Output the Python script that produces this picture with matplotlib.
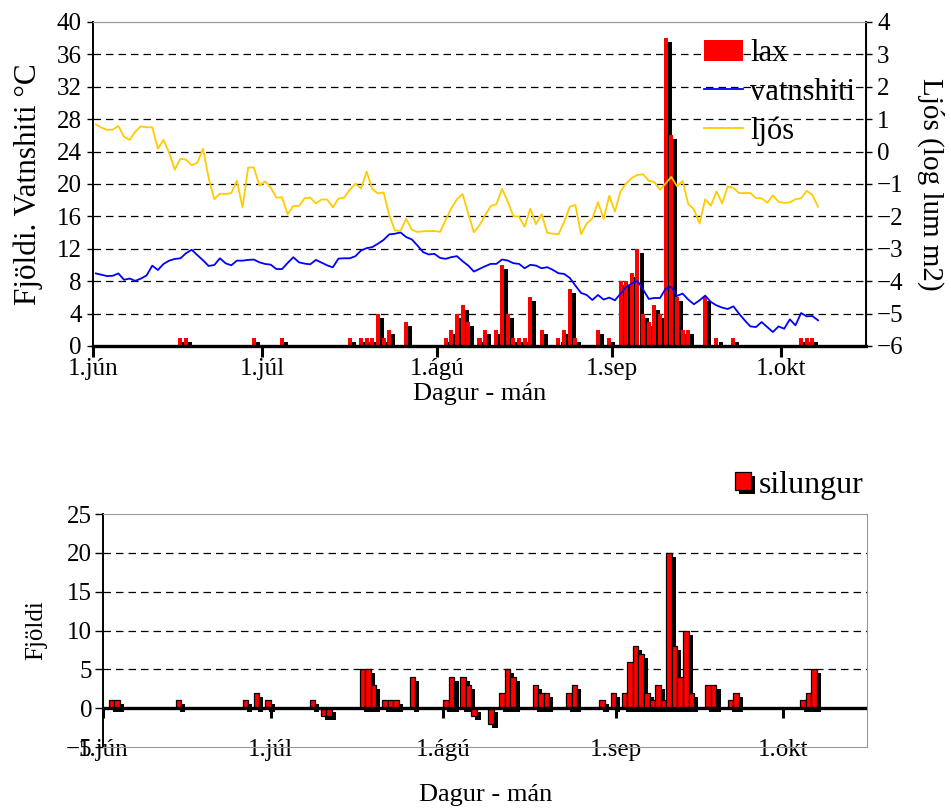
import matplotlib
matplotlib.use("Agg")
import matplotlib.pyplot as plt
import matplotlib.patheffects as pe
from matplotlib.patches import Patch
from matplotlib.lines import Line2D
from matplotlib.markers import TICKDOWN

plt.rcParams['font.family'] = ['Liberation Serif', 'DejaVu Serif']

# dagar taldir fra 1. juni (0 = 1.jún)
month_days = [0, 30, 61, 92, 122]
month_labels = ["1.jún", "1.júl", "1.ágú", "1.sep", "1.okt"]

lax_days = [15, 16, 28, 33, 45, 47, 48, 49, 50, 51, 52, 55, 62, 63, 64, 65, 66,
            68, 69, 71, 72, 73, 74, 75, 76, 77, 79, 82, 83, 84, 85, 89, 91,
            93, 94, 95, 96, 97, 98, 99, 100, 101, 102, 103, 104, 105, 108,
            110, 113, 125, 126, 127]
lax_count = [1, 1, 1, 1, 1, 1, 1, 1, 4, 1, 2, 3, 1, 2, 4, 5, 3,
             1, 2, 2, 10, 4, 1, 1, 1, 6, 2, 1, 2, 7, 1, 2, 1,
             8, 8, 9, 12, 4, 3, 5, 4, 38, 26, 6, 2, 2, 6,
             1, 1, 1, 1, 1]

sil_days = [1, 2, 13, 25, 27, 29, 37, 39, 40, 46, 47, 48, 50, 51, 52, 55, 61,
            62, 64, 65, 66, 69, 71, 72, 73, 77, 78, 79, 83, 84, 89, 91, 93,
            94, 95, 96, 97, 98, 99, 100, 101, 102, 103, 104, 105, 108, 109,
            112, 113, 125, 126, 127]
sil_count = [1, 1, 1, 1, 2, 1, 1, -1, -1, 5, 5, 3, 1, 1, 1, 4, 1,
             4, 4, 3, -1, -2, 2, 5, 4, 3, 2, 2, 2, 3, 1, 2, 2,
             6, 8, 7, 2, 1, 3, 1, 20, 8, 4, 10, 2, 3, 3,
             1, 2, 1, 2, 5]

# dagleg gildi, dagur 0..128
vatnshiti = [8.96, 8.79, 8.63, 8.67, 8.96, 8.17, 8.33, 8.04, 8.33, 8.71,
             9.92, 9.38, 10.13, 10.54, 10.75, 10.83, 11.46, 11.88, 11.21, 10.58,
             9.88, 10.0, 10.83, 10.21, 9.96, 10.54, 10.54, 10.63, 10.67, 10.33,
             10.13, 10.04, 9.5, 9.5, 10.25, 10.96, 10.33, 10.17, 10.08, 10.63,
             10.29, 9.96, 9.71, 10.79, 10.83, 10.83, 11.08, 11.79, 12.08, 12.21,
             12.63, 13.1, 13.78, 13.86, 14.02, 13.45, 13.16, 12.41, 11.59, 11.30,
             11.38, 10.88, 10.76, 10.97, 11.09, 10.47, 9.93, 9.19, 9.52, 9.85,
             10.14, 10.14, 10.68, 10.55, 10.22, 10.14, 9.60, 10.02, 9.93, 9.60,
             9.73, 9.40, 8.98, 8.90, 8.40, 7.45, 6.55, 6.30, 5.68, 6.30,
             5.73, 5.98, 5.64, 6.47, 7.30, 7.71, 8.04, 6.97, 5.81, 5.93,
             5.93, 7.09, 7.30, 6.18, 6.47, 5.73, 5.15, 5.64, 6.22, 5.44,
             5.02, 4.74, 4.57, 4.90, 3.99, 3.17, 2.42, 2.34, 2.96, 2.34,
             1.72, 2.42, 2.13, 3.29, 2.55, 4.07, 3.66, 3.70, 3.17]

ljos = [0.84, 0.74, 0.67, 0.68, 0.79, 0.46, 0.36, 0.62, 0.78, 0.75,
        0.75, 0.09, 0.36, -0.04, -0.56, -0.22, -0.25, -0.42, -0.34, 0.09,
        -0.82, -1.47, -1.30, -1.31, -1.28, -0.90, -1.72, -0.49, -0.49, -1.05,
        -0.92, -1.11, -1.42, -1.41, -1.93, -1.68, -1.68, -1.44, -1.42, -1.60,
        -1.48, -1.48, -1.72, -1.45, -1.42, -1.18, -0.99, -1.14, -0.62, -1.16,
        -1.29, -1.26, -1.96, -2.43, -2.45, -2.08, -2.41, -2.48, -2.46, -2.45,
        -2.45, -2.48, -2.12, -1.75, -1.47, -1.31, -1.91, -2.49, -2.27, -1.96,
        -1.68, -1.62, -1.15, -1.54, -1.99, -2.01, -2.32, -1.76, -2.24, -1.93,
        -2.51, -2.53, -2.55, -2.17, -1.70, -1.65, -2.55, -2.22, -2.06, -1.56,
        -2.08, -1.36, -1.85, -1.22, -0.98, -0.81, -0.72, -0.70, -0.90, -0.94,
        -1.18, -0.98, -0.78, -1.07, -0.91, -1.62, -1.78, -2.22, -1.47, -1.67,
        -1.23, -1.60, -1.08, -1.12, -1.28, -1.28, -1.28, -1.44, -1.44, -1.58,
        -1.35, -1.55, -1.58, -1.57, -1.47, -1.44, -1.21, -1.34, -1.70]

n_days = 137
fs = 18
shadow = [pe.SimplePatchShadow(offset=(2.9, -2.9), shadow_rgbFace="black", alpha=1.0),
          pe.Normal()]
dash = (0, (6, 4))

fig = plt.figure(figsize=(9.51, 8.08), dpi=100)

# ---------- efri mynd: lax, vatnshiti, ljos ----------
ax = fig.add_axes([93 / 951, 1 - 346 / 808, 773 / 951, 324 / 808])
ax2 = ax.twinx()

for v in range(4, 40, 4):
    ax.axhline(v, color="black", lw=0.9, ls=dash, zorder=1)

bars = ax.bar([d + 0.5 for d in lax_days], lax_count, width=0.71,
              color="#ff0000", zorder=2)
for b in bars:
    b.set_path_effects(shadow)

days = [d + 0.5 for d in range(len(vatnshiti))]
ax.plot(days, vatnshiti, color="#0000ff", lw=1.3, zorder=4)
ax2.plot(days, ljos, color="#ffcc00", lw=1.3)

ax.set_xlim(0, n_days)
ax.set_ylim(0, 40)
ax2.set_ylim(-6, 4)
ax.set_yticks(range(0, 41, 4))
ax2.set_yticks(range(-6, 5))
ax.set_xticks(month_days)
ax.set_xticklabels(month_labels)

ax.tick_params(axis="x", length=8, width=2.2, pad=1, labelsize=fs)
ax.tick_params(axis="y", length=4, width=1, labelsize=fs, pad=4)
ax2.tick_params(axis="y", length=4, width=1, labelsize=fs, pad=4)

ax.spines["bottom"].set_linewidth(2.4)
ax.spines["left"].set_linewidth(1.4)
ax2.spines["right"].set_linewidth(1.4)
for s in (ax.spines["top"], ax2.spines["top"]):
    s.set_color("#999999")
ax2.spines["bottom"].set_visible(False)
ax2.spines["left"].set_visible(False)

ax.set_ylabel("Fjöldi. Vatnshiti °C", fontsize=22.5, labelpad=10)
ax2.set_ylabel("Ljós (log lum m2)", fontsize=21, rotation=270, labelpad=29)
ax.set_xlabel("Dagur - mán", fontsize=19, labelpad=2)

handles = [Patch(facecolor="#ff0000", label="lax"),
           Line2D([], [], color="#0000ff", lw=1.3, label="vatnshiti"),
           Line2D([], [], color="#ffcc00", lw=1.3, label="ljós")]
ax2.legend(handles=handles, loc="upper left", bbox_to_anchor=(0.774, 0.985),
           frameon=False, fontsize=22, handlelength=1.3, handleheight=0.7,
           labelspacing=0.32, handletextpad=0.23, borderaxespad=0)

# ---------- nedri mynd: silungur ----------
bx = fig.add_axes([103.3 / 951, 1 - 747 / 808, 763.7 / 951, 233 / 808])
for v in range(5, 25, 5):
    bx.axhline(v, color="black", lw=0.9, ls=dash, zorder=1)

sbars = bx.bar([d + 0.5 for d in sil_days], sil_count, width=1.0,
               color="#ff0000", edgecolor="black", lw=0.9, zorder=2)
for b in sbars:
    b.set_path_effects(shadow)

bx.axhline(0, color="black", lw=2.4, zorder=3)
bx.plot(month_days, [0] * len(month_days), ls="none", marker=TICKDOWN,
        ms=7, mew=2.2, color="black", zorder=3, clip_on=False)

bx.set_xlim(0, n_days)
bx.set_ylim(-5, 25)
bx.set_yticks(range(-5, 26, 5))
bx.set_xticks(month_days)
bx.set_xticklabels(month_labels)
bx.tick_params(axis="x", length=0, pad=-6, labelsize=fs)
bx.tick_params(axis="y", length=6, width=1, labelsize=fs, pad=2)
bx.spines["left"].set_linewidth(1.4)
for k in ("top", "right", "bottom"):
    bx.spines[k].set_color("#999999")

bx.set_ylabel("Fjöldi", fontsize=fs, labelpad=13)
bx.set_xlabel("Dagur - mán", fontsize=19, labelpad=17)

sh = Patch(facecolor="#ff0000", edgecolor="black", lw=0.9, label="silungur")
sh.set_path_effects(shadow)
bx.legend(handles=[sh], loc="lower left", bbox_to_anchor=(0.808, 1.0),
          frameon=False, fontsize=23, handlelength=0.5, handleheight=0.5,
          handletextpad=0.25, borderaxespad=0.05)

fig.savefig("out.png", dpi=100)
